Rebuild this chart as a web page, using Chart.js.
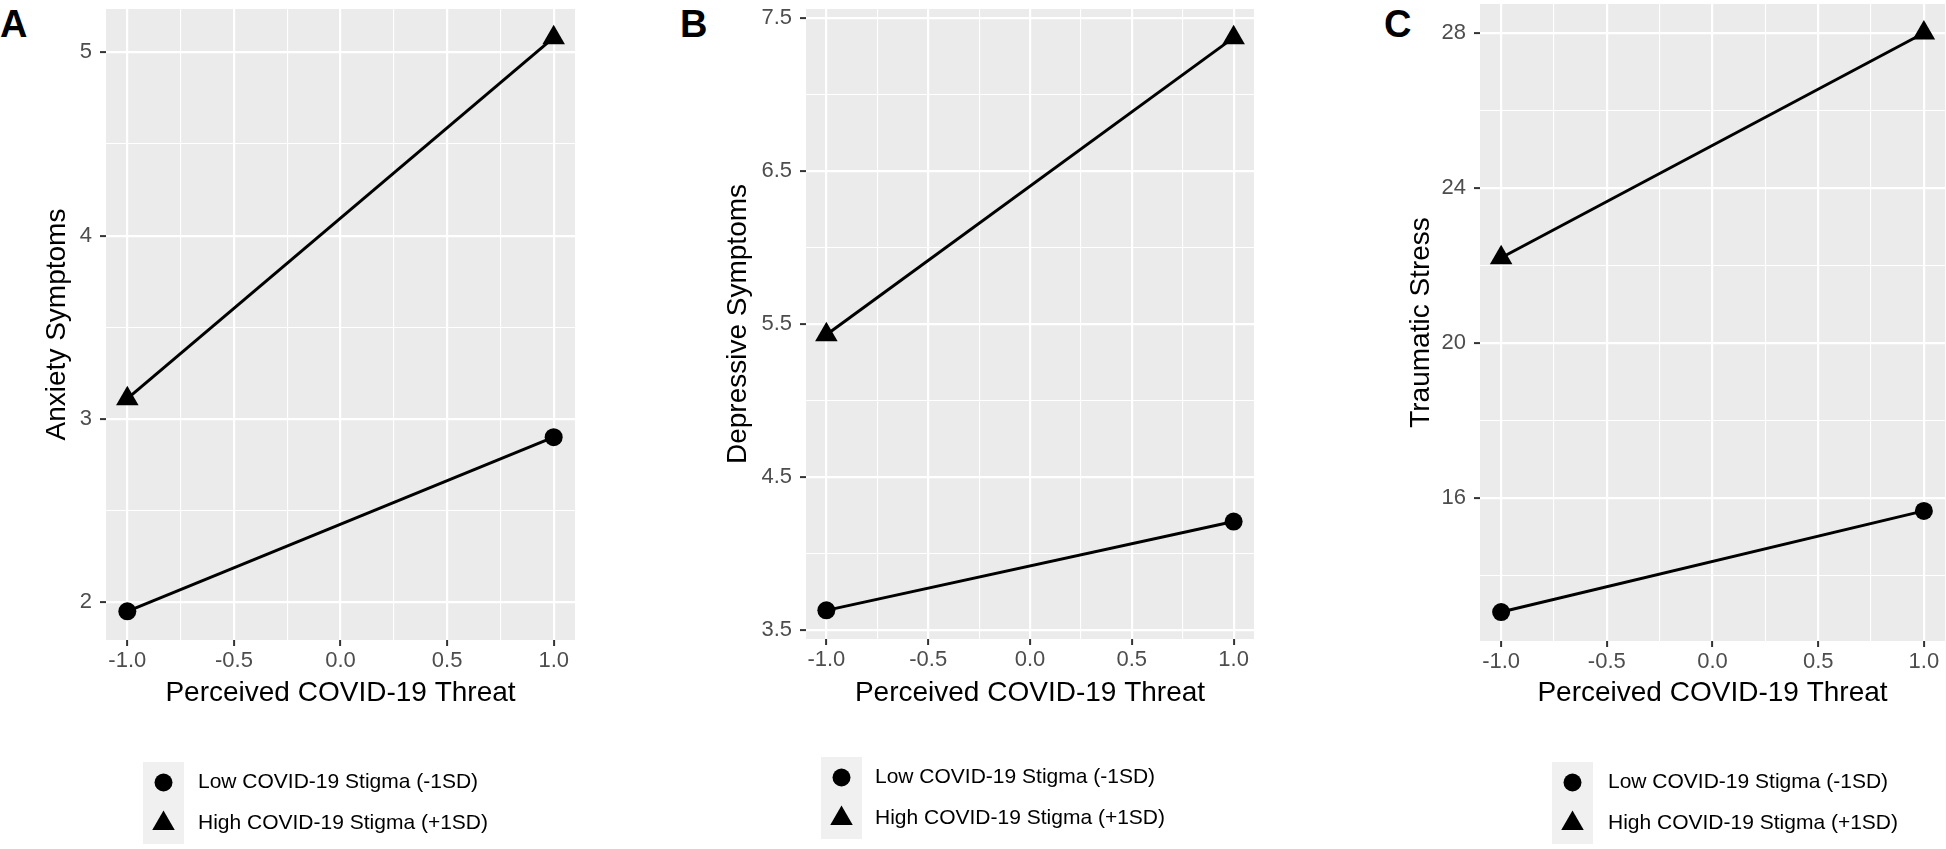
<!DOCTYPE html>
<html lang="en">
<head>
<meta charset="UTF-8">
<title>Perceived COVID-19 threat by stigma</title>
<script src="https://cdn.jsdelivr.net/npm/chart.js@4.4.1/dist/chart.umd.min.js"></script>
<style>
    body {
        margin: 0;
        width: 1946px;
        height: 849px;
        background: #fff;
        position: relative;
        overflow: hidden;
    }
    .panel {
        position: absolute;
        top: 0;
        height: 849px;
    }
    .tag {
        position: absolute;
        top: 5px;
        font: bold 38px/38px "Liberation Sans Narrow", "Liberation Sans", Arial, sans-serif;
        color: #000;
    }
</style>
</head>
<body>

<div class="tag" style="left:0px">A</div>
<div class="tag" style="left:680px">B</div>
<div class="tag" style="left:1384px">C</div>

<div class="panel" style="left:0px;width:640px"><canvas id="chartA"></canvas></div>
<div class="panel" style="left:640px;width:650px"><canvas id="chartB"></canvas></div>
<div class="panel" style="left:1290px;width:656px"><canvas id="chartC"></canvas></div>

<script>
    // data
    const threat = [-1, 1];
    const xTicks = [-1, -0.5, 0, 0.5, 1];
    const groups = ['Low COVID-19 Stigma (-1SD)', 'High COVID-19 Stigma (+1SD)'];

    const anxietyLow = [1.95, 2.90];
    const anxietyHigh = [3.11, 5.08];
    const anxietyTicks = [2, 3, 4, 5];

    const depressiveLow = [3.63, 4.21];
    const depressiveHigh = [5.43, 7.37];
    const depressiveTicks = [3.5, 4.5, 5.5, 6.5, 7.5];

    const stressLow = [13.06, 15.67];
    const stressHigh = [22.2, 28.0];
    const stressTicks = [16, 20, 24, 28];

    const family = '"Liberation Sans", Arial, sans-serif';
    Chart.defaults.font.family = family;

    // ggplot style: 5% expansion of the data range
    function expand(values) {
        const lo = Math.min(...values), hi = Math.max(...values);
        const pad = (hi - lo) * 0.05;
        return [lo - pad, hi + pad];
    }

    // major ticks plus the minor lines half way between them
    function gridValues(major, min, max) {
        const half = (major[1] - major[0]) / 2;
        const out = [];
        for (let v = major[0] - 2 * half; v <= major[major.length - 1] + 2 * half + 1e-9; v += half) {
            const r = Math.round(v * 1000) / 1000;
            if (r >= min && r <= max) out.push(r);
        }
        return out;
    }

    const isIn = (list, v) => list.some(t => Math.abs(t - v) < 1e-6);

    const panelBg = {
        id: 'panelBg',
        beforeDraw(chart) {
            const {ctx, chartArea: a} = chart;
            ctx.save();
            ctx.fillStyle = '#ebebeb';
            ctx.fillRect(a.left, a.top, a.right - a.left, a.bottom - a.top);
            ctx.restore();
        }
    };

    function drawShape(ctx, style, r, cx, cy) {
        ctx.beginPath();
        if (style === 'triangle') {
            let rad = 0;
            ctx.moveTo(cx + Math.sin(rad) * r, cy - Math.cos(rad) * r);
            rad += 2 * Math.PI / 3;
            ctx.lineTo(cx + Math.sin(rad) * r, cy - Math.cos(rad) * r);
            rad += 2 * Math.PI / 3;
            ctx.lineTo(cx + Math.sin(rad) * r, cy - Math.cos(rad) * r);
            ctx.closePath();
        } else {
            ctx.arc(cx, cy, r, 0, Math.PI * 2);
        }
        ctx.fill();
    }

    // legend with grey key column, stacked like ggplot
    const keyLegend = {
        id: 'keyLegend',
        afterDraw(chart, args, opts) {
            const ctx = chart.ctx;
            const n = chart.data.datasets.length;
            ctx.save();
            ctx.fillStyle = '#f0f0f0';
            ctx.fillRect(opts.x, opts.y, opts.size, opts.row * n);
            chart.data.datasets.forEach((ds, i) => {
                const cx = opts.x + opts.size / 2;
                const cy = opts.y + opts.row * i + opts.row / 2;
                ctx.fillStyle = '#000';
                drawShape(ctx, ds.pointStyle, ds.pointRadius, cx, cy);
                ctx.font = '21px ' + family;
                ctx.textBaseline = 'middle';
                ctx.textAlign = 'left';
                ctx.fillStyle = '#000';
                ctx.fillText(ds.label, opts.textX, cy);
            });
            ctx.restore();
        }
    };

    function buildPanel(id, cfg) {
        const [ymin, ymax] = expand(cfg.low.concat(cfg.high));
        const [xmin, xmax] = expand(threat);
        const yGrid = gridValues(cfg.yTicks, ymin, ymax);
        const xGrid = gridValues(xTicks, xmin, xmax);
        const W = cfg.width;
        const axisH = 80;
        const titleCenter = 693;

        new Chart(document.getElementById(id), {
            type: 'scatter',
            data: {
                datasets: [{
                    label: groups[0],
                    data: threat.map((x, i) => ({x: x, y: cfg.low[i]})),
                    showLine: true,
                    borderColor: '#000',
                    backgroundColor: '#000',
                    borderWidth: 3,
                    pointStyle: 'circle',
                    pointRadius: 9,
                    pointBorderWidth: 0,
                    clip: false
                }, {
                    label: groups[1],
                    data: threat.map((x, i) => ({x: x, y: cfg.high[i]})),
                    showLine: true,
                    borderColor: '#000',
                    backgroundColor: '#000',
                    borderWidth: 3,
                    pointStyle: 'triangle',
                    pointRadius: 13,
                    pointBorderWidth: 0,
                    clip: false
                }]
            },
            options: {
                responsive: true,
                maintainAspectRatio: false,
                animation: false,
                events: [],
                layout: {
                    autoPadding: false,
                    padding: {
                        left: 0,
                        top: cfg.top,
                        right: W - (cfg.right - cfg.left0),
                        bottom: 849 - cfg.bottom - axisH
                    }
                },
                plugins: {
                    legend: {display: false},
                    tooltip: {enabled: false},
                    keyLegend: {
                        x: cfg.legendX - cfg.left0,
                        y: cfg.legendY,
                        size: 41,
                        row: 41,
                        textX: cfg.textX - cfg.left0
                    }
                },
                scales: {
                    x: {
                        type: 'linear',
                        min: xmin,
                        max: xmax,
                        afterBuildTicks: s => { s.ticks = xGrid.map(v => ({value: v})); },
                        afterFit: s => {
                            s.height = axisH;
                            s.paddingLeft = 0;
                            s.paddingRight = 0;
                        },
                        ticks: {
                            autoSkip: false,
                            maxRotation: 0,
                            color: '#4d4d4d',
                            font: {size: 22},
                            padding: 2,
                            callback: v => isIn(xTicks, v) ? v.toFixed(1) : ''
                        },
                        grid: {
                            color: '#ffffff',
                            lineWidth: c => isIn(xTicks, c.tick.value) ? 2.2 : 1.1,
                            tickLength: 6,
                            tickWidth: 2,
                            tickColor: c => isIn(xTicks, c.tick.value) ? '#333333' : 'rgba(0,0,0,0)'
                        },
                        border: {display: false},
                        title: {
                            display: true,
                            text: 'Perceived COVID-19 Threat',
                            color: '#000',
                            font: {size: 28},
                            padding: {top: 0, bottom: cfg.bottom + axisH - 16.8 - titleCenter}
                        }
                    },
                    y: {
                        type: 'linear',
                        min: ymin,
                        max: ymax,
                        afterBuildTicks: s => { s.ticks = yGrid.map(v => ({value: v})); },
                        afterFit: s => {
                            s.width = cfg.left - cfg.left0;
                            s.paddingTop = 0;
                            s.paddingBottom = 0;
                        },
                        ticks: {
                            autoSkip: false,
                            color: '#4d4d4d',
                            font: {size: 22},
                            padding: 8,
                            callback: v => isIn(cfg.yTicks, v) ? v.toFixed(cfg.digits) : ''
                        },
                        grid: {
                            color: '#ffffff',
                            lineWidth: c => isIn(cfg.yTicks, c.tick.value) ? 2.2 : 1.1,
                            tickLength: 6,
                            tickWidth: 2,
                            tickColor: c => isIn(cfg.yTicks, c.tick.value) ? '#333333' : 'rgba(0,0,0,0)'
                        },
                        border: {display: false},
                        title: {
                            display: true,
                            text: cfg.yTitle,
                            color: '#000',
                            font: {size: 28},
                            padding: {top: cfg.yTitleX - 16.8, bottom: 0}
                        }
                    }
                }
            },
            plugins: [panelBg, keyLegend]
        });
    }

    buildPanel('chartA', {
        left0: 0, width: 640, left: 106, right: 575, top: 9, bottom: 640,
        low: anxietyLow, high: anxietyHigh, yTicks: anxietyTicks, digits: 0,
        yTitle: 'Anxiety Symptoms', yTitleX: 57,
        legendX: 143, legendY: 762, textX: 198
    });

    buildPanel('chartB', {
        left0: 640, width: 650, left: 806, right: 1254, top: 9, bottom: 639,
        low: depressiveLow, high: depressiveHigh, yTicks: depressiveTicks, digits: 1,
        yTitle: 'Depressive Symptoms', yTitleX: 98,
        legendX: 821, legendY: 757, textX: 875
    });

    buildPanel('chartC', {
        left0: 1290, width: 656, left: 1480, right: 1945, top: 4, bottom: 641,
        low: stressLow, high: stressHigh, yTicks: stressTicks, digits: 0,
        yTitle: 'Traumatic Stress', yTitleX: 131,
        legendX: 1552, legendY: 762, textX: 1608
    });
</script>
</body>
</html>
